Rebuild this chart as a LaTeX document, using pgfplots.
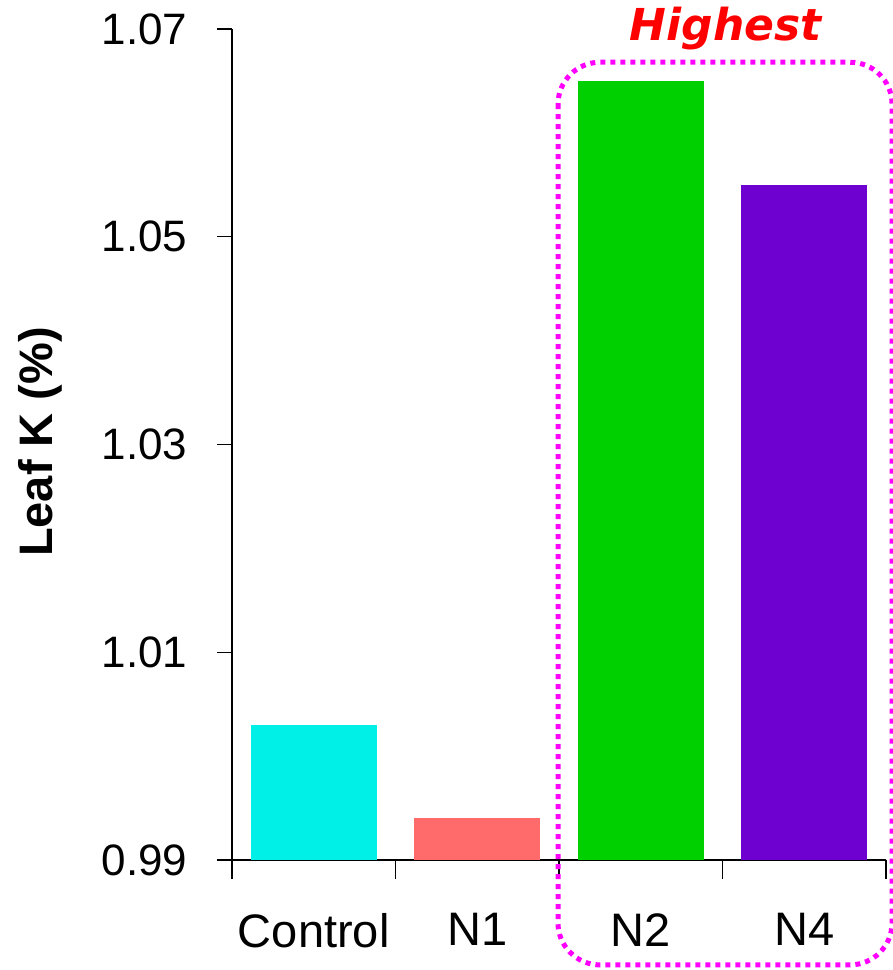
\documentclass[border=0pt]{standalone}
\usepackage{fontspec}
\setmainfont{Liberation Sans}
\newfontfamily\highfont{DejaVu Sans}
\usepackage{pgfplots}
\pgfplotsset{compat=1.18}

\definecolor{barcontrol}{RGB}{0,240,232}
\definecolor{barNone}{RGB}{255,106,106}
\definecolor{barNtwo}{RGB}{0,208,0}
\definecolor{barNfour}{RGB}{110,0,208}
\definecolor{boxmagenta}{RGB}{255,0,255}

\begin{document}
\begin{tikzpicture}
\begin{axis}[
  at={(0,0)}, anchor=south west,
  scale only axis,
  width=654pt, height=831pt,
  xmin=-0.5, xmax=3.5,
  ymin=0.99, ymax=1.07,
  axis x line=bottom, axis y line=left,
  axis line style={-, line width=1.3pt},
  x axis line style={shorten <=-15pt},
  ytick={0.99,1.01,1.03,1.05,1.07},
  yticklabels={0.99,1.01,1.03,1.05,1.07},
  xtick={0,1,2,3},
  xticklabels={Control,N1,N2,N4},
  minor xtick={-0.5,0.5,1.5,2.5,3.5},
  major x tick style={draw=none},
  minor x tick style={line width=1.3pt, black},
  y tick style={line width=1.3pt, black},
  tick align=outside,
  major tick length=15pt,
  minor tick length=19pt,
  yticklabel style={font=\fontsize{44}{50}\selectfont, xshift=-26pt},
  xticklabel style={font=\fontsize{47}{52}\selectfont, yshift=-35pt},
  clip=false,
  ybar, bar width=126pt, bar shift=0pt,
]
  % leaf potassium by treatment
  \addplot[fill=barcontrol, draw=none] coordinates {(0,1.003)};
  \addplot[fill=barNone,    draw=none] coordinates {(1,0.994)};
  \addplot[fill=barNtwo,    draw=none] coordinates {(2,1.065)};
  \addplot[fill=barNfour,   draw=none] coordinates {(3,1.055)};

  % highlight frame around the two best treatments
  \draw[boxmagenta, line width=5pt, dash pattern=on 5pt off 5pt, rounded corners=42pt]
    (axis cs:1.494,1.0668) rectangle (axis cs:3.537,0.9799);
  \node[text=red, font=\highfont\bfseries\itshape\fontsize{44}{48}\selectfont]
    at (axis cs:2.52,1.0700) {Highest};
\end{axis}
% y-axis title
\node[rotate=90, font=\bfseries\fontsize{47}{52}\selectfont] at (-192pt,418pt) {Leaf K (\%)};
\pgfresetboundingbox
\path (-232pt,-110pt) rectangle (661pt,860pt);
\end{tikzpicture}
\end{document}
